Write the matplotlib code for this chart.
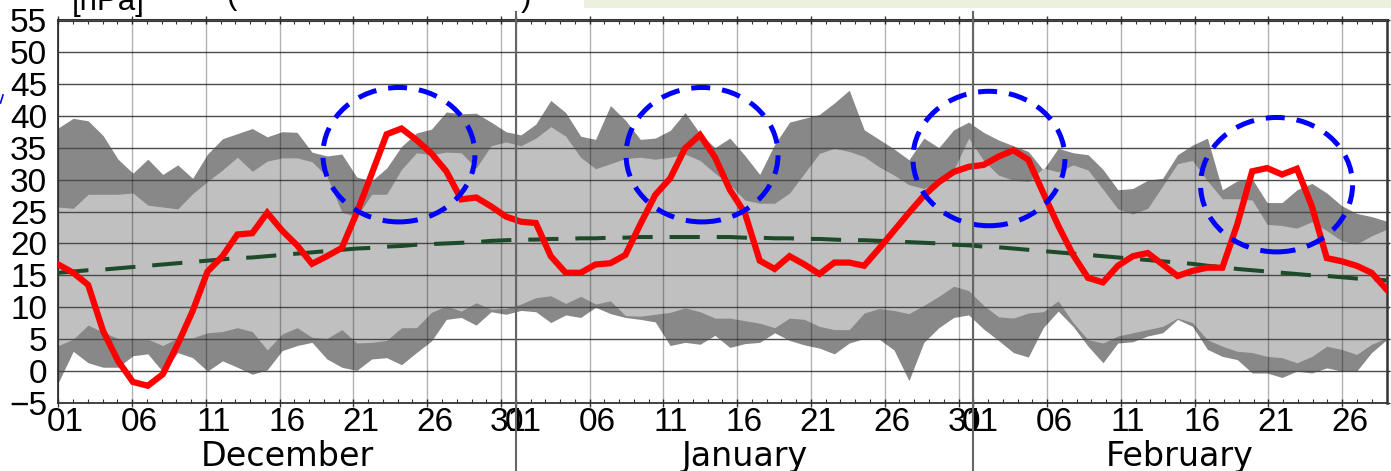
import numpy as np
import matplotlib
matplotlib.use("Agg")
import matplotlib.pyplot as plt
from matplotlib import transforms as mtransforms
from matplotlib.patches import Ellipse, Rectangle
from matplotlib.lines import Line2D

# ---------------------------------------------------------------------------
# Daily values, 1 December .. 28 February  [hPa]
# ---------------------------------------------------------------------------
observed = [
    16.7, 15.4, 13.5, 6.3, 1.6, -1.7, -2.3, -0.5, 4.2, 9.4,
    15.6, 18.0, 21.4, 21.6, 24.8, 22.0, 19.7, 16.8, 18.0, 19.3,
    24.8, 30.9, 37.1, 38.0, 36.2, 34.1, 31.3, 26.9, 27.2, 25.8,
    24.2, 23.4, 23.2, 18.0, 15.4, 15.4, 16.7, 16.9, 18.2, 23.0,
    27.6, 30.2, 34.9, 37.0, 33.5, 28.4, 24.8, 17.3, 16.0, 18.0,
    16.7, 15.2, 17.0, 17.0, 16.5, 19.2, 22.0, 24.8, 27.5, 29.6,
    31.2, 32.0, 32.3, 33.6, 34.6, 33.1, 27.9, 22.8, 18.2, 14.6,
    13.9, 16.5, 18.0, 18.5, 16.7, 14.9, 15.7, 16.2, 16.2, 23.0,
    31.3, 31.8, 30.8, 31.7, 25.8, 17.7, 17.2, 16.5, 15.4, 12.8,
]

climatology = [
    15.4, 15.6, 15.8, 15.9, 16.1, 16.3, 16.5, 16.7, 16.9, 17.1,
    17.3, 17.5, 17.7, 17.8, 18.0, 18.2, 18.4, 18.6, 18.8, 19.0,
    19.2, 19.3, 19.5, 19.6, 19.8, 19.9, 20.0, 20.1, 20.2, 20.4,
    20.5, 20.6, 20.6, 20.7, 20.7, 20.8, 20.8, 20.9, 20.9, 21.0,
    21.0, 21.0, 21.0, 21.0, 21.0, 21.0, 20.9, 20.9, 20.8, 20.8,
    20.7, 20.7, 20.6, 20.5, 20.5, 20.4, 20.3, 20.2, 20.1, 20.0,
    19.8, 19.7, 19.5, 19.4, 19.2, 19.0, 18.8, 18.6, 18.4, 18.2,
    18.0, 17.8, 17.6, 17.4, 17.2, 17.0, 16.8, 16.5, 16.3, 16.0,
    15.8, 15.6, 15.4, 15.2, 15.0, 14.9, 14.7, 14.5, 14.4, 14.2,
]

# outer envelope (dark band)
outer_high = [
    38.1, 39.6, 39.2, 36.9, 33.2, 31.0, 33.2, 30.8, 32.3, 30.2,
    34.0, 36.4, 37.2, 38.0, 36.7, 37.5, 37.4, 34.3, 33.7, 34.0,
    30.4, 29.8, 31.8, 35.2, 37.3, 37.9, 40.6, 40.3, 40.4, 39.0,
    37.5, 37.0, 38.7, 42.4, 40.5, 36.8, 36.3, 41.6, 39.3, 36.3,
    36.5, 37.7, 40.5, 37.2, 35.0, 36.5, 33.8, 30.8, 35.5, 39.0,
    39.6, 40.2, 42.0, 44.0, 37.8, 36.3, 34.8, 33.1, 36.5, 35.0,
    37.8, 39.0, 37.4, 36.2, 35.3, 34.4, 31.5, 34.9, 34.2, 33.9,
    31.6, 28.4, 28.6, 29.9, 30.2, 33.9, 35.4, 36.5, 28.4, 29.8,
    30.1, 26.4, 26.4, 28.4, 29.4, 27.9, 25.9, 24.7, 24.2, 23.5,
]
outer_low = [
    -1.8, 3.1, 1.3, 0.6, 0.6, 2.4, 2.7, -0.1, 2.9, 2.1,
    0.0, 1.6, 0.6, -0.5, 0.2, 3.2, 4.0, 4.5, 1.9, 0.6,
    0.1, 1.9, 2.1, 1.0, 2.9, 4.7, 8.1, 8.4, 7.2, 9.3,
    8.9, 9.5, 9.3, 7.6, 8.8, 8.4, 10.0, 9.0, 8.4, 8.1,
    7.7, 4.0, 4.5, 4.2, 5.6, 3.7, 4.3, 4.5, 6.0, 4.8,
    4.1, 3.6, 2.7, 4.4, 5.1, 5.0, 3.3, -1.5, 4.5, 6.8,
    8.4, 8.8, 6.6, 4.8, 2.9, 2.2, 6.8, 9.4, 7.0, 3.9,
    1.3, 4.4, 4.6, 5.5, 6.0, 8.1, 7.0, 3.4, 2.3, 1.8,
    -0.3, -0.3, -1.0, 0.0, -0.3, 0.5, 0.0, 0.0, 2.9, 4.9,
]

# inner range (light band)
inner_high = [
    25.7, 25.5, 27.7, 27.7, 27.7, 27.9, 26.0, 25.7, 25.4, 27.8,
    29.7, 31.5, 33.5, 31.3, 32.9, 33.4, 33.4, 32.8, 30.5, 24.9,
    24.2, 27.7, 27.7, 31.6, 34.2, 33.9, 34.3, 34.2, 31.8, 35.3,
    35.9, 35.3, 36.5, 38.3, 36.8, 33.5, 31.7, 32.5, 33.3, 33.5,
    33.2, 33.5, 34.0, 33.0, 31.0, 29.2, 26.8, 26.3, 26.3, 27.9,
    31.0, 34.1, 34.9, 34.4, 33.6, 32.0, 30.7, 29.2, 28.6, 29.7,
    31.5, 36.5, 33.0, 30.7, 29.9, 29.7, 31.8, 31.2, 32.3, 31.5,
    28.5, 25.4, 24.6, 25.5, 29.0, 32.5, 33.0, 29.8, 27.0, 27.0,
    26.8, 23.0, 22.8, 22.4, 23.4, 22.0, 20.4, 19.9, 21.2, 22.2,
]
inner_low = [
    4.0, 5.0, 7.2, 6.1, 5.1, 5.0, 5.0, 4.0, 5.2, 5.2,
    6.0, 6.2, 6.8, 6.2, 3.3, 5.8, 6.8, 5.3, 5.1, 6.5,
    4.4, 4.5, 4.8, 6.8, 6.8, 9.2, 10.2, 9.4, 10.7, 9.7,
    9.8, 10.5, 11.5, 11.8, 10.6, 11.7, 10.5, 11.0, 8.7, 8.6,
    8.9, 9.2, 9.9, 9.3, 8.3, 8.3, 7.9, 7.5, 6.8, 8.3,
    8.1, 7.0, 6.5, 6.5, 9.1, 9.8, 9.5, 9.0, 10.3, 11.7,
    13.3, 12.6, 10.3, 8.5, 8.3, 9.1, 9.3, 11.0, 7.6, 4.9,
    4.4, 5.5, 6.0, 6.5, 7.0, 8.3, 7.6, 4.9, 3.9, 3.1,
    2.9, 2.3, 2.1, 1.3, 2.3, 3.9, 3.4, 2.6, 4.2, 5.2,
]

months = ["December", "January", "February"]
month_lengths = [31, 31, 28]
label_days = [1, 6, 11, 16, 21, 26, 31]
y_ticks = list(range(-5, 60, 5))

# highlighted episodes: (centre day, centre hPa)
highlights = [(23.08, 33.9), (43.62, 33.9), (63.06, 33.3), (82.55, 29.2)]
HL_WIDTH, HL_HEIGHT = 10.3, 21.06

NUM_FONT, NUM_SIZE = "Liberation Sans", 24
TEXT_FONT = "DejaVu Sans"

W_PX, H_PX = 1391, 471
fig = plt.figure(figsize=(W_PX / 100, H_PX / 100), dpi=100)
ax = fig.add_axes([58.3 / W_PX, 68 / H_PX, 1328.2 / W_PX, 383 / H_PX])

n_days = sum(month_lengths)
ax.set_xlim(0, n_days)
ax.set_ylim(-5, 55)

x = np.linspace(0, n_days, len(observed))

# bands
ax.fill_between(x, outer_low, outer_high, color="#888888", lw=0, zorder=1)
ax.fill_between(x, inner_low, inner_high, color="#c0c0c0", lw=0, zorder=2)

# tick positions per month (grid at the start of each labelled day)
starts = np.cumsum([0] + month_lengths[:-1])
major_pos, major_lab = [], []
for s, L in zip(starts, month_lengths):
    for d in label_days:
        if d <= L:
            major_pos.append(s + d - 1)
            major_lab.append(f"{d:02d}")

# grid
for v in y_ticks:
    ax.axhline(v, color="#4a4a4a", lw=1.0, zorder=3)
for p in major_pos:
    ax.axvline(p, color="black", alpha=0.3, lw=1.0, zorder=3)

# climatology and observed
ax.plot(x, climatology, color="#1d4b2a", lw=2.9, ls=(0, (7.5, 4.2)), zorder=4)
ax.plot(x, observed, color="#ff0000", lw=4.5, solid_joinstyle="miter",
        zorder=5)

# highlighted episodes
for cx, cy in highlights:
    ax.add_patch(Ellipse((cx, cy), HL_WIDTH, HL_HEIGHT, fill=False,
                         ec="#0000ff", lw=3.6, ls=(0, (3.8, 2.4)), zorder=6))

# date ticks: marks on the grid days, labels centred on the day
ax.set_xticks(major_pos)
ax.set_xticks(np.arange(0, n_days + 1), minor=True)
ax.tick_params(axis="x", which="major", direction="inout", length=6,
               width=1.0, top=True, bottom=True, labelbottom=False,
               color="#333333")
ax.tick_params(axis="x", which="minor", direction="in", length=3,
               width=0.8, top=True, bottom=True, color="#333333")

days_axis = ax.secondary_xaxis("bottom")
days_axis.set_xticks([p + 0.5 for p in major_pos])
days_axis.set_xticklabels(major_lab, family=NUM_FONT, fontsize=NUM_SIZE)
days_axis.tick_params(length=0, pad=3.2)
days_axis.spines["bottom"].set_visible(False)

ax.set_yticks(y_ticks)
ax.set_yticklabels([str(v).replace("-", "\u2212") for v in y_ticks],
                   family=NUM_FONT, fontsize=NUM_SIZE)
ax.tick_params(axis="y", which="major", direction="out", length=2,
               width=1.0, left=False, right=True, labelleft=True,
               pad=6, color="#333333")
for side, lw in (("left", 1.3), ("bottom", 1.3), ("top", 2.2), ("right", 1.8)):
    ax.spines[side].set_linewidth(lw)
    ax.spines[side].set_color("#333333")

# month separators running through the date axis
bt = mtransforms.blended_transform_factory(ax.transData, fig.transFigure)
for s in starts[1:]:
    fig.add_artist(Line2D([s, s], [0, 1 - 12 / H_PX], transform=bt,
                          color="#666666", lw=1.5, zorder=7))

# month names
for s, L, name in zip(starts, month_lengths, months):
    fig.text(s + L / 2, 1 - 466 / H_PX, name, transform=bt, ha="center",
             va="baseline", family=TEXT_FONT, fontsize=24)

# header strip
fig.add_artist(Rectangle((584 / W_PX, 1 - 8 / H_PX), 1 - 584 / W_PX,
                         8 / H_PX, transform=fig.transFigure,
                         color="#ebf0df", lw=0))
fig.text(72 / W_PX, 1 - 10 / H_PX, "[hPa]", ha="left", va="baseline",
         family="Liberation Sans", fontsize=22.5)
fig.text(226 / W_PX, 1 - 4 / H_PX, "(", ha="left", va="baseline",
         family="Liberation Sans", fontsize=22.5)
fig.text(521 / W_PX, 1 - 6 / H_PX, ")", ha="left", va="baseline",
         family="Liberation Sans", fontsize=22.5)
fig.add_artist(Line2D([0.5 / W_PX, 3 / W_PX], [1 - 103 / H_PX, 1 - 95 / H_PX],
                      transform=fig.transFigure, color="#0000ff", lw=1.2))

fig.savefig("out.png", dpi=100)
